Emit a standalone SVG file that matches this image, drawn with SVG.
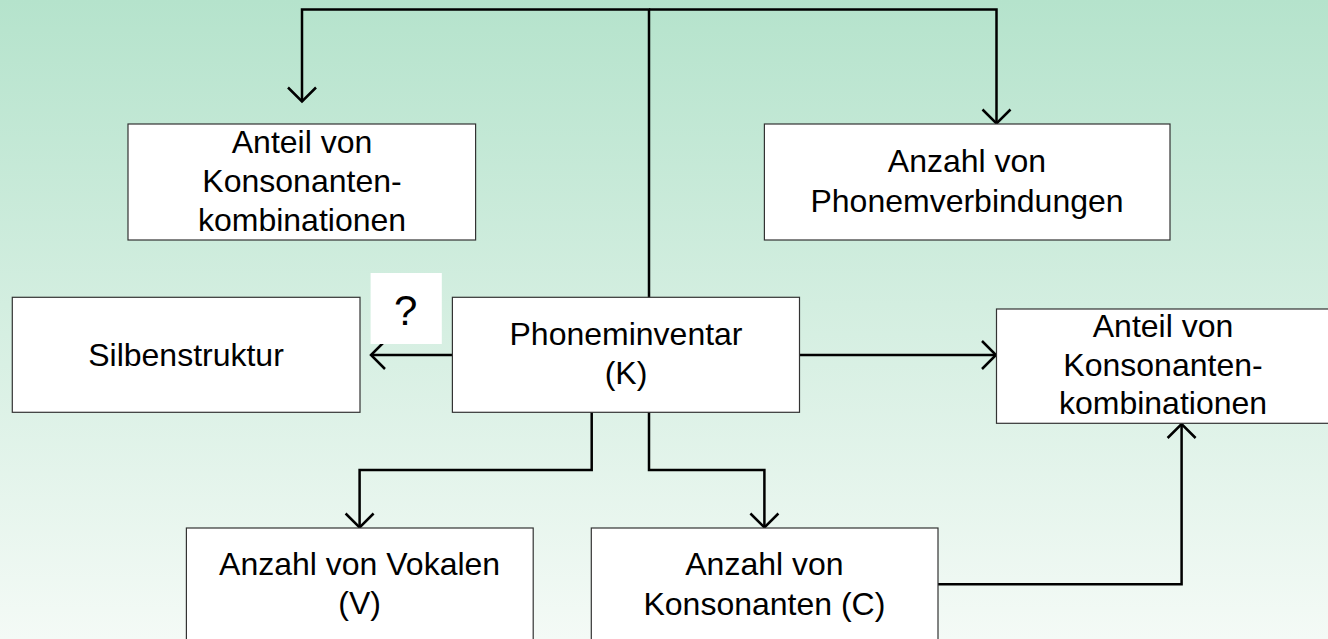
<svg xmlns="http://www.w3.org/2000/svg" width="1328" height="639" viewBox="0 0 1328 639">
  <defs>
    <linearGradient id="bg" x1="0" y1="0" x2="0" y2="1">
      <stop offset="0" stop-color="#b5e3cc"/>
      <stop offset="1" stop-color="#f4faf6"/>
    </linearGradient>
    <marker id="arrow" markerUnits="userSpaceOnUse" viewBox="-17 -17 34 34" markerWidth="34" markerHeight="34" refX="0" refY="0" orient="auto">
      <path d="M-14,-14 L0,0 L-14,14" fill="none" stroke="#000" stroke-width="2.5"/>
    </marker>
    <style>
      .box { fill: #fff; stroke: #333; stroke-width: 1.2; }
      .lbl { font-family: "Liberation Sans", Arial, sans-serif; font-size: 32px; fill: #000; text-anchor: middle; }
      .conn { fill: none; stroke: #000; stroke-width: 2.5; marker-end: url(#arrow); }
    </style>
  </defs>
  <rect x="0" y="0" width="1328" height="639" fill="url(#bg)"/>

  <g id="connectors">
    <path class="conn" d="M649,298 V9.5 H302 V101.5"/>
    <path class="conn" d="M649,9.5 H996.5 V123.5"/>
    <path class="conn" d="M452,355 H371"/>
    <path class="conn" d="M799.5,355 H996"/>
    <path class="conn" d="M591.7,412 V470 H359.6 V527.5"/>
    <path class="conn" d="M649,412 V470 H764.4 V527.5"/>
    <path class="conn" d="M938,584.3 H1181.6 V424"/>
  </g>

  <g id="node-anteil-top">
    <rect class="box" x="128" y="124" width="347.6" height="116"/>
    <text class="lbl" x="302" y="153">Anteil von</text>
    <text class="lbl" x="302" y="192">Konsonanten-</text>
    <text class="lbl" x="302" y="231">kombinationen</text>
  </g>

  <g id="node-phonemverbindungen">
    <rect class="box" x="764.4" y="124" width="405.6" height="116"/>
    <text class="lbl" x="967" y="172">Anzahl von</text>
    <text class="lbl" x="967" y="212">Phonemverbindungen</text>
  </g>

  <g id="node-silbenstruktur">
    <rect class="box" x="12.3" y="297.3" width="347.7" height="115"/>
    <text class="lbl" x="186" y="366">Silbenstruktur</text>
  </g>

  <g id="node-question">
    <rect x="370.6" y="273" width="71.2" height="71" fill="#fff"/>
    <text x="405.7" y="325" font-family="Liberation Sans, Arial, sans-serif" font-size="42" text-anchor="middle">?</text>
  </g>

  <g id="node-phoneminventar">
    <rect class="box" x="452.4" y="297.3" width="347.1" height="115"/>
    <text class="lbl" x="626" y="345">Phoneminventar</text>
    <text class="lbl" x="626" y="384">(K)</text>
  </g>

  <g id="node-anteil-right">
    <rect class="box" x="996.5" y="309" width="340" height="114.3"/>
    <text class="lbl" x="1163" y="337">Anteil von</text>
    <text class="lbl" x="1163" y="376">Konsonanten-</text>
    <text class="lbl" x="1163" y="414">kombinationen</text>
  </g>

  <g id="node-vokale">
    <rect class="box" x="186.4" y="528" width="346.8" height="130"/>
    <text class="lbl" x="359.6" y="575">Anzahl von Vokalen</text>
    <text class="lbl" x="359.6" y="614">(V)</text>
  </g>

  <g id="node-konsonanten">
    <rect class="box" x="591.3" y="528" width="346.7" height="130"/>
    <text class="lbl" x="764.4" y="575">Anzahl von</text>
    <text class="lbl" x="764.4" y="615">Konsonanten (C)</text>
  </g>
</svg>
